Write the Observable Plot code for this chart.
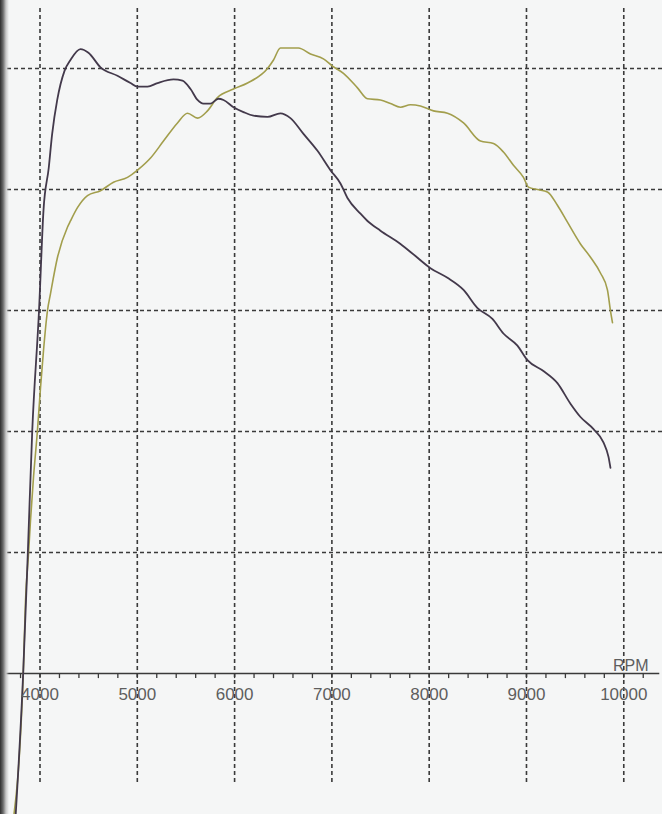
<!DOCTYPE html>
<html>
<head>
<meta charset="utf-8">
<script src="https://cdn.jsdelivr.net/npm/d3@7"></script>
<script src="https://cdn.jsdelivr.net/npm/@observablehq/plot@0.6"></script>
<style>
  html, body { margin: 0; padding: 0; background: #f5f6f6; }
  #wrap { position: relative; width: 662px; height: 814px; overflow: hidden; }
  #edge { position: absolute; left: 0; top: 0; width: 9px; height: 814px;
          background: linear-gradient(to right, #2e2e2e 0px, #6a6a6a 3px, #c8c8c8 6px, rgba(245,246,246,0) 9px); }
</style>
</head>
<body>
<div id="wrap"><div id="edge"></div></div>
<script>
// RPM values and readings (grid units) read from the dyno sheet
const darkRpm = [3740,3827,3875,3920,3990,4036,4090,4125,4177,4252,4313,4416,4498,4622,4796,4930,5002,5105,5208,5372,5464,5547,5619,5680,5752,5834,5886,5989,6091,6194,6338,6471,6574,6708,6852,6985,7088,7160,7294,7366,7499,7705,7859,8013,8188,8353,8497,8650,8763,8907,9010,9174,9318,9452,9555,9689,9791,9843,9863];
const darkVal = [-13,0,10.0,20.0,30.0,38.3,41.8,44.6,47.4,49.8,50.7,51.6,51.3,50.1,49.4,48.8,48.5,48.5,48.8,49.1,49.0,48.3,47.4,47.1,47.1,47.5,47.4,46.8,46.4,46.1,46.0,46.3,45.9,44.6,43.2,41.6,40.5,39.3,38.0,37.4,36.6,35.5,34.5,33.5,32.7,31.7,30.2,29.3,28.1,27.1,25.9,25.0,24.0,22.3,21.2,20.2,19.1,17.9,17.0];

const lightRpm = [3710,3830,3851,3882,3902,3933,3974,4005,4036,4077,4108,4180,4283,4313,4385,4488,4622,4755,4899,5002,5136,5269,5413,5516,5619,5721,5824,5989,6133,6338,6400,6471,6543,6656,6780,6913,7006,7119,7263,7366,7499,7602,7705,7808,7910,8044,8188,8353,8527,8661,8763,8866,8969,9020,9113,9215,9318,9421,9555,9658,9760,9832,9863,9884];
const lightVal = [-13,0.5,6.0,9.9,12.6,16.2,20.1,23.6,26.7,30.0,31.4,34.4,36.9,37.4,38.5,39.5,39.9,40.6,41.0,41.6,42.6,44.0,45.5,46.3,45.9,46.5,47.6,48.3,48.8,50.0,50.7,51.7,51.7,51.7,51.2,50.8,50.2,49.6,48.4,47.5,47.4,47.1,46.8,47.0,46.9,46.5,46.3,45.5,44.0,43.8,43.1,42.0,41.0,40.2,40.0,39.8,38.7,37.3,35.5,34.4,33.1,31.7,30.0,29.0];

const majorTicks = [4000,5000,6000,7000,8000,9000,10000];
const minorTicks = d3.range(3800, 10201, 200);
const gridY = [10,20,30,40,50];
const axisLabel = "RPM";

const dark = darkRpm.map((r,i) => ({rpm: r, v: darkVal[i]}));
const light = lightRpm.map((r,i) => ({rpm: r, v: lightVal[i]}));

const chart = Plot.plot({
  width: 662,
  height: 814,
  marginTop: 0, marginRight: 0, marginBottom: 0, marginLeft: 0,
  x: {domain: [3594, 10398], axis: null},
  y: {domain: [-11.65, 55.62], axis: null},
  style: {background: "transparent", fontFamily: "'Liberation Sans', Arial, sans-serif"},
  marks: [
    Plot.ruleY(gridY, {stroke: "#3a3a3a", strokeWidth: 1.6, strokeDasharray: "4,3"}),
    Plot.ruleX(majorTicks, {y1: -9.0, y2: 55.0, stroke: "#3a3a3a", strokeWidth: 1.6, strokeDasharray: "4,3"}),
    Plot.ruleY([0], {x1: 3594, x2: 10370, stroke: "#3a3a3a", strokeWidth: 1.5}),
    Plot.ruleX(minorTicks, {y1: 0, y2: -0.42, stroke: "#3a3a3a", strokeWidth: 1.3}),
    Plot.line(light, {x: "rpm", y: "v", stroke: "#a29e4c", strokeWidth: 1.6, curve: "monotone-x", clip: true}),
    Plot.line(dark, {x: "rpm", y: "v", stroke: "#43394b", strokeWidth: 1.8, curve: "monotone-x", clip: true}),
    Plot.text(majorTicks, {x: d => d, y: -2.2, text: d => String(d), lineAnchor: "bottom", textAnchor: "middle", fontSize: 17, fill: "#5e5e5e"}),
    Plot.text([axisLabel], {x: 10254, y: 0.25, text: d => d, lineAnchor: "bottom", textAnchor: "end", fontSize: 16, fill: "#5e5e5e"})
  ]
});
document.getElementById("wrap").appendChild(chart);
</script>
</body>
</html>
